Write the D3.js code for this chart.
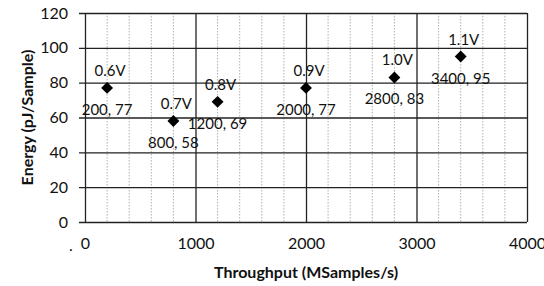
<!DOCTYPE html>
<html>
<head>
<meta charset="utf-8">
<script src="https://cdn.jsdelivr.net/npm/d3@7"></script>
<style>
body { margin: 0; background: #fff; }
text { font-family: Lato, "Open Sans", sans-serif; fill: #111; }
</style>
</head>
<body>
<svg id="thesvg" width="544" height="286"></svg>
<script>
// data
var throughput = [200, 800, 1200, 2000, 2800, 3400];
var energy = [77, 58, 69, 77, 83, 95];
var voltages = ["0.6V", "0.7V", "0.8V", "0.9V", "1.0V", "1.1V"];
var xticks = [0, 1000, 2000, 3000, 4000];
var yticks = [0, 20, 40, 60, 80, 100, 120];

var svg = d3.select("#thesvg");

var pLeft = 85, pRight = 527, pTop = 13, pBottom = 222;

var xScale = d3.scaleLinear().domain([0, 4000]).range([pLeft, pRight]);
var yScale = d3.scaleLinear().domain([0, 120]).range([pBottom, pTop]);

// minor vertical gridlines (every 200)
var minor = d3.range(200, 4000, 200).filter(function(d) { return d % 1000 != 0; });
svg.selectAll(".minor")
    .data(minor)
    .enter().append("line")
    .attr("x1", d => xScale(d)).attr("x2", d => xScale(d))
    .attr("y1", pTop).attr("y2", pBottom)
    .attr("stroke", "#b0b0b0")
    .attr("stroke-width", 1)
    .attr("stroke-dasharray", "1.5,1.5");

// horizontal gridlines via y axis
var yAxis = d3.axisLeft(yScale).tickValues(yticks).tickFormat(d3.format("d"))
    .tickSize(-(pRight - pLeft)).tickPadding(17);
svg.append("g")
    .attr("transform", `translate(${pLeft}, 0)`)
    .call(yAxis)
    .call(g => g.select(".domain").remove())
    .call(g => g.selectAll(".tick line").attr("stroke", "#222").attr("stroke-width", 1.3).attr("x1", -6))
    .call(g => g.selectAll(".tick text").style("font-size", "16px"));

// vertical major gridlines via x axis
var xAxis = d3.axisBottom(xScale).tickValues(xticks).tickFormat(d3.format("d"))
    .tickSize(-(pBottom - pTop)).tickPadding(16);
svg.append("g")
    .attr("transform", `translate(0, ${pBottom})`)
    .call(xAxis)
    .call(g => g.select(".domain").remove())
    .call(g => g.selectAll(".tick line").attr("stroke", "#222").attr("stroke-width", 1.3))
    .call(g => g.selectAll(".tick text").style("font-size", "16px"));

// stray mark left of the zero label
svg.append("text")
    .attr("x", 69).attr("y", 251)
    .style("font-size", "16px")
    .text(".");

// diamonds
svg.selectAll(".pt")
    .data(throughput)
    .enter().append("path")
    .attr("d", d3.symbol().type(d3.symbolDiamond2).size(90))
    .attr("transform", (d, i) => `translate(${xScale(d)}, ${yScale(energy[i])})`)
    .attr("fill", "#000");

// voltage labels
svg.selectAll(".vlab")
    .data(throughput)
    .enter().append("text")
    .attr("x", d => xScale(d) + 3)
    .attr("y", (d, i) => yScale(energy[i]) - 12)
    .attr("text-anchor", "middle")
    .style("font-size", "15px")
    .text((d, i) => voltages[i]);

// value labels
svg.selectAll(".clab")
    .data(throughput)
    .enter().append("text")
    .attr("x", d => xScale(d))
    .attr("y", (d, i) => yScale(energy[i]) + 27)
    .attr("text-anchor", "middle")
    .style("font-size", "15px")
    .text((d, i) => d + ", " + energy[i]);

// axis titles
svg.append("text")
    .attr("transform", `translate(33, ${(pTop + pBottom) / 2}) rotate(-90)`)
    .attr("text-anchor", "middle")
    .style("font-size", "16px")
    .style("font-weight", "bold")
    .text("Energy (pJ/Sample)");

svg.append("text")
    .attr("x", 306).attr("y", 278)
    .attr("text-anchor", "middle")
    .style("font-size", "16px")
    .style("font-weight", "bold")
    .text("Throughput (MSamples/s)");
</script>
</body>
</html>
